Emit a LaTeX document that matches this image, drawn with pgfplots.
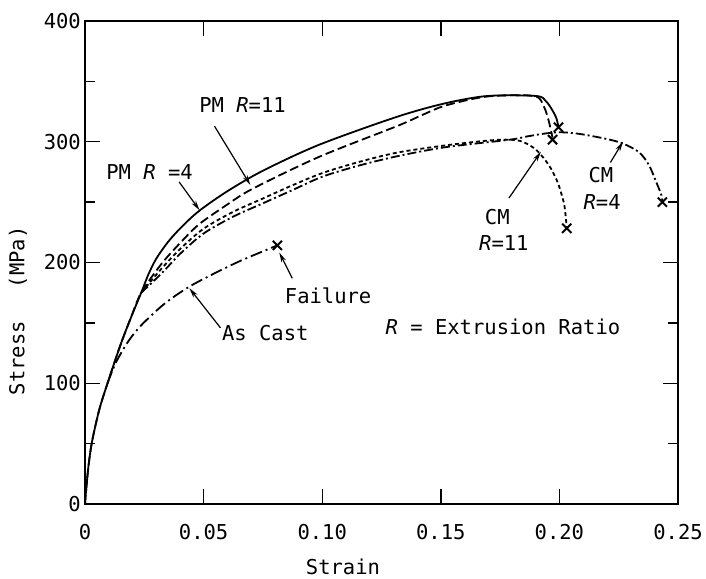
\documentclass[border=0pt]{standalone}
\usepackage{fontspec}
\setmainfont{DejaVu Sans Mono}
\usepackage{pgfplots}
\pgfplotsset{compat=1.18}
\usetikzlibrary{arrows.meta}
\begin{document}
\begin{tikzpicture}[font=\fontsize{20.5}{24}\selectfont]
\begin{axis}[
  scale only axis, width=593pt, height=483pt,
  xmin=0, xmax=0.25, ymin=0, ymax=400,
  xtick={0,0.05,0.10,0.15,0.20,0.25},
  xticklabels={0,0.05,0.10,0.15,0.20,0.25},
  ytick={0,100,200,300,400},
  yticklabels={0,100,200,300,400},
  minor xtick={}, minor y tick num=1,
  tick align=inside,
  major tick length=15pt, minor tick length=10pt,
  every tick/.style={black, line width=1.4pt},
  axis line style={line width=1.6pt},
  /pgf/number format/assume math mode=true,
  xticklabel style={anchor=center, yshift=-28pt, inner sep=0pt},
  yticklabel style={anchor=east, xshift=-4pt, inner sep=0pt},
  xlabel={Strain},
  ylabel={Stress\hspace{1.6em}(MPa)},
  xlabel style={at={([yshift=-63pt]axis description cs:0.435,0)}, anchor=center, inner sep=0pt},
  ylabel style={at={([xshift=-67pt]axis description cs:0,0.40)}, anchor=center, inner sep=0pt},
  clip=false,
]
% PM R=4 (solid)
\addplot[black, line width=1.8pt, smooth, tension=0.5] coordinates {
 (0,0) (0.0005,12) (0.0015,32) (0.003,52) (0.006,78) (0.0095,100) (0.015,132) (0.0195,155) (0.0237,175)
 (0.0267,190) (0.030,203) (0.035,217) (0.041,230) (0.0483,243) (0.06,259) (0.075,276)
 (0.0987,297.5) (0.1316,320.7) (0.152,331.9) (0.1697,337.9) (0.1902,337.9) (0.1943,333.6)
 (0.1971,325.9) (0.1988,319) (0.1996,312)
};
% PM R=11 (dashed)
\addplot[black, line width=1.8pt, dash pattern=on 9pt off 4pt, smooth, tension=0.5] coordinates {
 (0,0) (0.0005,12) (0.0015,32) (0.003,52) (0.006,78) (0.0095,100) (0.015,132) (0.0195,155) (0.0237,175)
 (0.0323,199) (0.041,218) (0.0483,232) (0.06,248) (0.0706,261) (0.0987,287.5) (0.1316,313)
 (0.142,322) (0.152,330) (0.1697,337.5) (0.1893,337.9) (0.1934,329.3) (0.1955,317.2)
 (0.1971,303.4)
};
% CM R=11 (short dashes)
\addplot[black, line width=1.8pt, dash pattern=on 4pt off 3pt, smooth, tension=0.5] coordinates {
 (0.0237,175) (0.0323,195) (0.040,211) (0.050,228) (0.0625,242) (0.075,253) (0.0875,264)
 (0.100,274) (0.115,283) (0.1316,291) (0.152,297) (0.170,301) (0.179,301.7) (0.1845,300)
 (0.1902,293.3) (0.1955,280.8) (0.1992,266.7) (0.2018,250) (0.2026,239.2) (0.2031,228.3)
};
% CM R=4 (dash-dot)
\addplot[black, line width=1.8pt, dash pattern=on 9pt off 3pt on 2pt off 3pt, smooth, tension=0.5] coordinates {
 (0.0237,175) (0.0323,191) (0.040,207) (0.050,224) (0.0625,238) (0.075,249) (0.0875,260)
 (0.100,271) (0.115,280) (0.1316,288) (0.152,295.5) (0.1791,301.7) (0.1861,304.3) (0.1943,306.9)
 (0.2013,307.8) (0.2101,306) (0.2246,300) (0.2333,291.7) (0.2377,280.8) (0.2408,266.7)
 (0.243,255.8) (0.2434,250)
};
% As Cast (dash-dot)
\addplot[black, line width=1.8pt, dash pattern=on 12pt off 4pt on 2pt off 4pt, smooth, tension=0.5] coordinates {
 (0.0095,100) (0.013,117) (0.018,134) (0.0237,148) (0.0336,166) (0.044,180) (0.0551,191.5)
 (0.0659,201.7) (0.0811,214.2)
};
% Failure marks
\addplot[only marks, mark=x, mark size=6.5pt, black, mark options={line width=2pt}] coordinates {
 (0.1996,312) (0.1971,301.7) (0.2031,228.3) (0.2434,250) (0.0811,214.2)
};
% annotations
\node at (axis cs:0.0664,330.2) {PM \textit{R}=11};
\draw[line width=1.2pt, -{Stealth[length=10pt,width=5pt]}] (axis cs:0.0546,312.9) -- (axis cs:0.0697,264.2);
\node at (axis cs:0.0272,275) {PM \textit{R} =4};
\draw[line width=1.2pt, -{Stealth[length=10pt,width=5pt]}] (axis cs:0.0397,266.7) -- (axis cs:0.0483,243.3);
\node at (axis cs:0.1025,172.1) {Failure};
\draw[line width=1.2pt, -{Stealth[length=10pt,width=5pt]}] (axis cs:0.0874,186.9) -- (axis cs:0.0819,208.3);
\node at (axis cs:0.076,141.8) {As Cast};
\draw[line width=1.2pt, -{Stealth[length=10pt,width=5pt]}] (axis cs:0.0571,145.9) -- (axis cs:0.044,178.7);
\node at (axis cs:0.1738,237.5) {CM};
\node at (axis cs:0.1766,215.8) {\textit{R}=11};
\draw[line width=1.2pt, -{Stealth[length=10pt,width=5pt]}] (axis cs:0.1787,253.3) -- (axis cs:0.1922,291.7);
\node at (axis cs:0.2175,272.5) {CM};
\node at (axis cs:0.218,250) {\textit{R}=4};
\draw[line width=1.2pt, -{Stealth[length=10pt,width=5pt]}] (axis cs:0.2215,282.8) -- (axis cs:0.2268,300);
\node at (axis cs:0.1762,146.7) {\textit{R} = Extrusion Ratio};
\coordinate (bl) at (rel axis cs:0,0);
\coordinate (tr) at (rel axis cs:1,1);
\end{axis}
\pgfresetboundingbox
\path ([shift={(-85pt,-75pt)}]bl) rectangle ([shift={(28pt,21pt)}]tr);
\end{tikzpicture}
\end{document}
